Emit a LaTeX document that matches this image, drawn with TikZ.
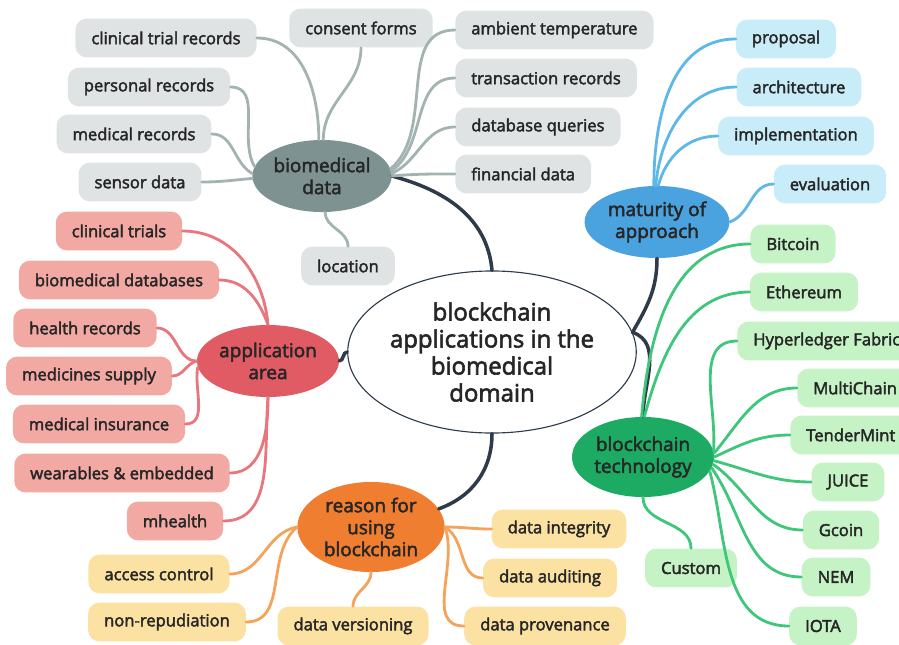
\documentclass[tikz,border=0pt]{standalone}
\usepackage{fontspec}
\setmainfont{Open Sans}
\newfontfamily\mapfont{Open Sans}[FakeBold=2.5]
\usepackage{xcolor}
\usepackage{tikz}
\usetikzlibrary{shapes.geometric}

\definecolor{textcol}{HTML}{262626}
\definecolor{trunkcol}{HTML}{2E3B4A}
\definecolor{greyleaf}{HTML}{DFE3E4}
\definecolor{greytopic}{HTML}{7E9391}
\definecolor{greyedge}{HTML}{A3B3B2}
\definecolor{blueleaf}{HTML}{C8ECF8}
\definecolor{bluetopic}{HTML}{4AA3DF}
\definecolor{blueedge}{HTML}{5DB8E8}
\definecolor{greenleaf}{HTML}{C6F3C6}
\definecolor{greentopic}{HTML}{1DAB63}
\definecolor{greenedge}{HTML}{3EC77B}
\definecolor{redleaf}{HTML}{F2A9A3}
\definecolor{redtopic}{HTML}{E05B63}
\definecolor{rededge}{HTML}{E8767C}
\definecolor{orangeleaf}{HTML}{FCE2A2}
\definecolor{orangetopic}{HTML}{F07E30}
\definecolor{orangeedge}{HTML}{F5A25A}

\begin{document}
\begin{tikzpicture}[
  x=0.025cm, y=-0.025cm,
  leaf/.style={
    rectangle,
    fill=#1,
    rounded corners=8pt,
    minimum height=0.97cm,
    inner xsep=0.4cm,
    font=\mapfont\fontsize{11.8}{13}\selectfont,
    text=textcol
  },
  topic/.style={
    ellipse,
    fill=#1,
    minimum width=3.55cm,
    minimum height=1.8cm,
    inner sep=0pt,
    align=center,
    font=\mapfont\fontsize{13.5}{15.6}\selectfont,
    text=textcol
  },
  branch/.style={
    draw=#1,
    line width=2pt,
    line cap=round
  },
  trunk/.style={
    draw=trunkcol,
    line width=2.5pt,
    line cap=round
  }
]
\useasboundingbox (0,0) rectangle (899,644);

% Central idea
\node[ellipse, draw=trunkcol, line width=0.8pt, fill=white, minimum width=7.05cm,
  minimum height=4.05cm, inner sep=0pt, align=center, text=textcol,
  font=\mapfont\fontsize{17}{19.2}\selectfont] (root) at (492,352)
  {blockchain\\applications in the\\biomedical\\domain};

% Main topics
\node[topic=greytopic, minimum width=3.48cm] (bio) at (322,176) {biomedical\\data};
\node[topic=bluetopic, minimum width=3.62cm] (mat) at (657,222) {maturity of\\approach};
\node[topic=greentopic, minimum height=2cm] (tech) at (643,457) {blockchain\\technology};
\node[topic=redtopic] (app) at (268,361) {application\\area};
\node[topic=orangetopic, minimum width=3.68cm, minimum height=2.25cm] (why) at (371,527) {reason for\\using\\blockchain};

% Biomedical data
\node[leaf=greyleaf] (ctrec) at (166,38) {clinical trial records};
\node[leaf=greyleaf] (consent) at (361,28) {consent forms};
\node[leaf=greyleaf] (persrec) at (149,87) {personal records};
\node[leaf=greyleaf] (medrec) at (134,134) {medical records};
\node[leaf=greyleaf] (sensor) at (140,182) {sensor data};
\node[leaf=greyleaf] (loc) at (348,266) {location};
\node[leaf=greyleaf, anchor=west] (ambient) at (455,30) {ambient temperature};
\node[leaf=greyleaf, anchor=west] (trans) at (455,78) {transaction records};
\node[leaf=greyleaf, anchor=west] (dbq) at (455,127) {database queries};
\node[leaf=greyleaf, anchor=west] (fin) at (455,174) {financial data};

% Maturity of approach
\node[leaf=blueleaf] (prop) at (786,39) {proposal};
\node[leaf=blueleaf] (arch) at (799,87) {architecture};
\node[leaf=blueleaf] (impl) at (796,136) {implementation};
\node[leaf=blueleaf] (eval) at (830,184) {evaluation};

% Blockchain technology
\node[leaf=greenleaf] (btc) at (793,244) {Bitcoin};
\node[leaf=greenleaf] (eth) at (804,292) {Ethereum};
\node[leaf=greenleaf, anchor=west] (hyp) at (737,341) {Hyperledger Fabric};
\node[leaf=greenleaf, anchor=west] (multi) at (797,388) {MultiChain};
\node[leaf=greenleaf, anchor=west] (tender) at (790,435) {TenderMint};
\node[leaf=greenleaf] (juice) at (848,482) {JUICE};
\node[leaf=greenleaf] (gcoin) at (841,530) {Gcoin};
\node[leaf=greenleaf] (nem) at (836,577) {NEM};
\node[leaf=greenleaf] (iota) at (823,626) {IOTA};
\node[leaf=greenleaf] (custom) at (691,568) {Custom};

% Application area
\node[leaf=redleaf] (ctrials) at (119,231) {clinical trials};
\node[leaf=redleaf] (biodb) at (119,280) {biomedical databases};
\node[leaf=redleaf] (hrec) at (85,328) {health records};
\node[leaf=redleaf] (meds) at (89,376) {medicines supply};
\node[leaf=redleaf] (insur) at (99,424) {medical insurance};
\node[leaf=redleaf] (wear) at (122,473) {wearables \& embedded};
\node[leaf=redleaf] (mh) at (175,521) {mhealth};

% Reason for using blockchain
\node[leaf=orangeleaf] (access) at (159,574) {access control};
\node[leaf=orangeleaf] (nonrep) at (167,622) {non-repudiation};
\node[leaf=orangeleaf] (vers) at (353,626) {data versioning};
\node[leaf=orangeleaf] (integ) at (559,529) {data integrity};
\node[leaf=orangeleaf] (audit) at (550,578) {data auditing};
\node[leaf=orangeleaf] (prov) at (545,626) {data provenance};

% Trunks from the centre
\draw[trunk] (root.north) to[out=95,in=-15] (bio.east);
\draw[trunk] (root.8) to[out=60,in=270] (mat.south);
\draw[trunk] (root.8) to[out=-20,in=90] (tech.north);
\draw[trunk] (root.west) to[out=180,in=0] (app.east);
\draw[trunk] (root.south) to[out=270,in=20] (why.15);

% Grey branches
\draw[branch=greyedge] (bio.95) to[out=90,in=0] (ctrec.east);
\draw[branch=greyedge] (bio.88) to[out=90,in=270] (consent.south);
\draw[branch=greyedge] (bio.172) to[out=120,in=0] (persrec.east);
\draw[branch=greyedge] (bio.178) to[out=150,in=0] (medrec.east);
\draw[branch=greyedge] (bio.182) to[out=185,in=0] (sensor.east);
\draw[branch=greyedge] (bio.275) to[out=270,in=90] (loc.north);
\draw[branch=greyedge] (bio.6) to[out=40,in=180] (ambient.west);
\draw[branch=greyedge] (bio.4) to[out=35,in=180] (trans.west);
\draw[branch=greyedge] (bio.2) to[out=25,in=180] (dbq.west);
\draw[branch=greyedge] (bio.0) to[out=5,in=180] (fin.west);

% Blue branches
\draw[branch=blueedge] (mat.95) to[out=90,in=180] (prop.west);
\draw[branch=blueedge] (mat.92) to[out=85,in=180] (arch.west);
\draw[branch=blueedge] (mat.88) to[out=75,in=180] (impl.west);
\draw[branch=blueedge] (mat.east) to[out=20,in=180] (eval.west);

% Green branches
\draw[branch=greenedge] (tech.92) to[out=85,in=180] (btc.west);
\draw[branch=greenedge] (tech.88) to[out=75,in=180] (eth.west);
\draw[branch=greenedge] (tech.5) to[out=85,in=180] (hyp.west);
\draw[branch=greenedge] (tech.3) to[out=50,in=180] (multi.west);
\draw[branch=greenedge] (tech.0) to[out=25,in=180] (tender.west);
\draw[branch=greenedge] (tech.-3) to[out=-15,in=180] (juice.west);
\draw[branch=greenedge] (tech.-6) to[out=-35,in=180] (gcoin.west);
\draw[branch=greenedge] (tech.-9) to[out=-55,in=180] (nem.west);
\draw[branch=greenedge] (tech.-12) to[out=-75,in=180] (iota.west);
\draw[branch=greenedge] (tech.south) to[out=270,in=90] (custom.north);

% Red branches
\draw[branch=rededge] (app.north) to[out=95,in=0] (ctrials.east);
\draw[branch=rededge] (app.north) to[out=110,in=0] (biodb.east);
\draw[branch=rededge] (app.west) to[out=180,in=0] (hrec.east);
\draw[branch=rededge] (app.west) to[out=195,in=0] (meds.east);
\draw[branch=rededge] (app.185) to[out=260,in=0] (insur.east);
\draw[branch=rededge] (app.south) to[out=270,in=0] (wear.east);
\draw[branch=rededge] (app.south) to[out=265,in=0] (mh.east);

% Orange branches
\draw[branch=orangeedge] (why.west) to[out=190,in=0] (access.east);
\draw[branch=orangeedge] (why.west) to[out=220,in=0] (nonrep.east);
\draw[branch=orangeedge] (why.south) to[out=270,in=90] (vers.north);
\draw[branch=orangeedge] (why.east) to[out=0,in=180] (integ.west);
\draw[branch=orangeedge] (why.east) to[out=-30,in=180] (audit.west);
\draw[branch=orangeedge] (why.east) to[out=-70,in=180] (prov.west);

\end{tikzpicture}
\end{document}
